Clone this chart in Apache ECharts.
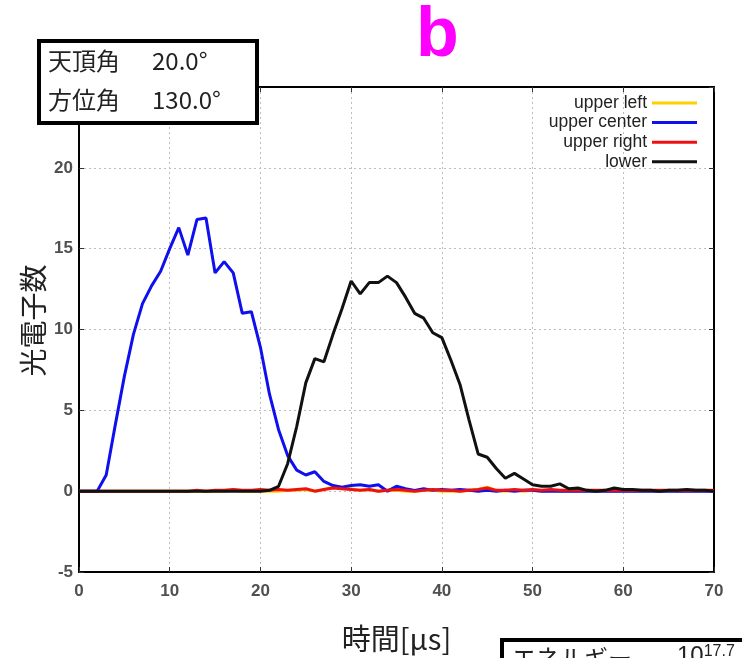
<!DOCTYPE html>
<html>
<head>
<meta charset="utf-8">
<script src="https://cdn.jsdelivr.net/npm/echarts@6/dist/echarts.min.js"></script>
<style>
html,body{margin:0;padding:0;background:#fff;}
#chart{width:742px;height:658px;}
</style>
</head>
<body>
<div id="chart"></div>
<script>
const times = [0,1,2,3,4,5,6,7,8,9,10,11,12,13,14,15,16,17,18,19,20,21,22,23,24,25,26,27,28,29,30,31,32,33,34,35,36,37,38,39,40,41,42,43,44,45,46,47,48,49,50,51,52,53,54,55,56,57,58,59,60,61,62,63,64,65,66,67,68,69,70];

const upperLeft = [0,0,0,0,0,0,0,0,0,0,0,0,0,0,0,0,0,0.05,0,0,0,0,0,0.05,0.05,0.1,0,0.1,0.25,0.2,0.15,0.05,0.1,0,0.05,0.05,0,0,0.05,0.05,0,0,0,0.05,0.1,0.25,0.05,0,0.05,0,0.05,0,0.05,0,0,0,0,0,0,0,0,0,0,0,0,0,0,0,0,0,0];

const upperCenter = [0,0,0,1.0,4.1,7.1,9.7,11.6,12.7,13.6,15.0,16.3,14.6,16.8,16.9,13.5,14.2,13.5,11.0,11.1,8.9,6.0,3.8,2.2,1.3,1.0,1.2,0.6,0.35,0.25,0.35,0.4,0.3,0.4,0.0,0.3,0.15,0.05,0.15,0.05,0.1,0.05,0.1,0.05,0,0.05,0,0.05,0,0.05,0.05,0,0,0,0,0,0,0,0,0,0,0,0,0,0,0,0,0,0,0,0];

const upperRight = [0,0,0,0,0,0,0,0,0,0,0,0,0,0.05,0,0.05,0.05,0.1,0.05,0.05,0.1,0.05,0.1,0.05,0.1,0.15,0,0.1,0.2,0.15,0.1,0.05,0.1,0,0.05,0.1,0.05,0,0.05,0.1,0.05,0.05,0,0.05,0.1,0.2,0.05,0.05,0.1,0.05,0.1,0.05,0.1,0.05,0.05,0.05,0.05,0.05,0.05,0.05,0.05,0.05,0.05,0.05,0.05,0.05,0.05,0.05,0.05,0.05,0.05];

const lower = [0,0,0,0,0,0,0,0,0,0,0,0,0,0,0,0,0,0,0,0,0,0.05,0.3,1.7,4.0,6.7,8.2,8.0,9.7,11.3,13.0,12.2,12.9,12.9,13.3,12.9,12.0,11.0,10.7,9.8,9.5,8.1,6.6,4.4,2.3,2.1,1.4,0.8,1.1,0.75,0.4,0.3,0.3,0.45,0.15,0.2,0.05,0.0,0.05,0.2,0.1,0.1,0.05,0.05,0.0,0.05,0.05,0.1,0.05,0.05,0.0];

const seriesNames = ['upper left','upper center','upper right','lower'];
const seriesColors = ['#ffd000','#1010ee','#ee1111','#111111'];
const seriesValues = [upperLeft, upperCenter, upperRight, lower];

const xTicks = {min:0, max:70, interval:10};
const yTicks = {min:-5, max:25, interval:5};

const chart = echarts.init(document.getElementById('chart'), null, {renderer:'canvas'});

const gridLine = {show:true, lineStyle:{type:[2,3], color:'#bdbdbd', width:1}};
const labelStyle = {color:'#505050', fontSize:17, fontWeight:'bold', fontFamily:'Liberation Sans'};

const option = {
  backgroundColor:'#fff',
  animation:false,
  title:{
    text:'b', left:416, top:2, padding:0,
    textStyle:{fontSize:70, fontWeight:'bold', color:'#ff00ff', fontFamily:'Liberation Sans'}
  },
  legend:{
    orient:'vertical', align:'right', right:45, top:94, padding:0,
    itemWidth:45, itemHeight:3, itemGap:1.6, icon:'rect',
    data:seriesNames,
    textStyle:{fontSize:17.5, color:'#222', fontFamily:'Liberation Sans', lineHeight:17}
  },
  grid:{left:79, right:28, top:87, bottom:86, show:true, borderColor:'#000', borderWidth:2, backgroundColor:'transparent'},
  xAxis:[{
    type:'value', min:xTicks.min, max:xTicks.max, interval:xTicks.interval,
    name:'時間[μs]', nameLocation:'middle', nameGap:52,
    nameTextStyle:{fontSize:29, color:'#222', fontFamily:'Noto Sans CJK JP'},
    axisLine:{show:true, onZero:false, lineStyle:{color:'#000', width:2}},
    axisTick:{show:true, inside:true, length:5, lineStyle:{color:'#333'}},
    axisLabel:Object.assign({margin:11}, labelStyle),
    splitLine:gridLine
  },{
    type:'value', position:'top', min:xTicks.min, max:xTicks.max, interval:xTicks.interval,
    axisLine:{show:true, onZero:false, lineStyle:{color:'#000', width:2}},
    axisTick:{show:true, inside:true, length:5, lineStyle:{color:'#333'}},
    axisLabel:{show:false}, splitLine:{show:false}
  }],
  yAxis:[{
    type:'value', min:yTicks.min, max:yTicks.max, interval:yTicks.interval,
    name:'光電子数', nameLocation:'middle', nameGap:32, nameRotate:90, nameMoveOverlap:false,
    nameTextStyle:{fontSize:28, color:'#222', fontFamily:'Noto Sans CJK JP', padding:[0,0,0,18]},
    axisLine:{show:true, onZero:false, lineStyle:{color:'#000', width:2}},
    axisTick:{show:true, inside:true, length:5, lineStyle:{color:'#333'}},
    axisLabel:Object.assign({margin:6}, labelStyle),
    splitLine:gridLine
  },{
    type:'value', position:'right', min:yTicks.min, max:yTicks.max, interval:yTicks.interval,
    axisLine:{show:true, onZero:false, lineStyle:{color:'#000', width:2}},
    axisTick:{show:true, inside:true, length:5, lineStyle:{color:'#333'}},
    axisLabel:{show:false}, splitLine:{show:false}
  }],
  series: seriesNames.map((n,i)=>({
    name:n, type:'line', xAxisIndex:0, yAxisIndex:0,
    data: times.map((t,j)=>[t, seriesValues[i][j]]),
    showSymbol:false, symbol:'none',
    lineStyle:{color:seriesColors[i], width:3},
    itemStyle:{color:seriesColors[i]},
    z: 2+i
  })),
  graphic:[
    {type:'rect', z:100, shape:{x:39, y:41, width:218, height:82},
     style:{fill:'#fff', stroke:'#000', lineWidth:4}},
    {type:'text', z:101, left:48, top:49,
     style:{text:'天頂角', fontSize:24, fill:'#222', fontFamily:'Noto Sans CJK JP'}},
    {type:'text', z:101, left:152, top:49,
     style:{text:'20.0°', fontSize:24, fill:'#222', fontFamily:'Noto Sans CJK JP'}},
    {type:'text', z:101, left:48, top:88,
     style:{text:'方位角', fontSize:24, fill:'#222', fontFamily:'Noto Sans CJK JP'}},
    {type:'text', z:101, left:152, top:88,
     style:{text:'130.0°', fontSize:24, fill:'#222', fontFamily:'Noto Sans CJK JP'}},
    {type:'rect', z:100, shape:{x:502, y:640, width:300, height:60},
     style:{fill:'#fff', stroke:'#000', lineWidth:4}},
    {type:'text', z:101, left:512, top:646,
     style:{text:'エネルギー', fontSize:24, fill:'#222', fontFamily:'Noto Sans CJK JP'}},
    {type:'text', z:101, left:677, top:644,
     style:{text:'{a|10}{b|17.7}', fontFamily:'Noto Sans CJK JP', fill:'#222',
       rich:{a:{fontSize:24, fill:'#222', verticalAlign:'bottom'}, b:{fontSize:16, fill:'#222', verticalAlign:'top'}}}}
  ]
};
chart.setOption(option);
</script>
</body>
</html>
